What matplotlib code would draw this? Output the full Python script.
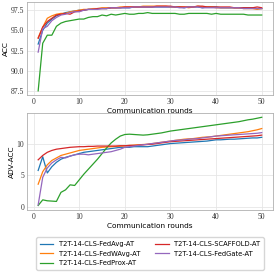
import numpy as np
import matplotlib
matplotlib.use("Agg")
import matplotlib.pyplot as plt

rounds = np.arange(1, 51)
labels = ["T2T-14-CLS-FedAvg-AT", "T2T-14-CLS-FedWAvg-AT", "T2T-14-CLS-FedProx-AT",
          "T2T-14-CLS-SCAFFOLD-AT", "T2T-14-CLS-FedGate-AT"]
colors = ["#1f77b4", "#ff7f0e", "#2ca02c", "#d62728", "#9467bd"]
xtick_labels = ["0", "10", "20", "30", "40", "50"]
acc_ticks = ["87.5", "90.0", "92.5", "95.0", "97.5"]
adv_ticks = ["0", "5", "10"]

# clean accuracy
acc_fedavg = [93.3, 95.0, 95.9, 96.4, 96.8, 97.0, 97.2, 97.3, 97.4, 97.5,
              97.5, 97.6, 97.6, 97.7, 97.7, 97.7, 97.8, 97.8, 97.8, 97.8,
              97.8, 97.9, 97.9, 97.9, 97.9, 97.9, 97.9, 97.9, 97.9, 97.9,
              97.9, 97.9, 97.8, 97.9, 97.9, 97.9, 97.8, 97.9, 97.9, 97.9,
              97.8, 97.8, 97.8, 97.8, 97.8, 97.8, 97.8, 97.8, 97.7, 97.7]
acc_fedwavg = [94.1, 95.4, 96.5, 96.8, 97.0, 97.1, 97.1, 97.3, 97.4, 97.5,
               97.6, 97.6, 97.7, 97.7, 97.8, 97.8, 97.8, 97.8, 97.9, 97.9,
               97.9, 97.9, 97.9, 98.0, 98.0, 98.0, 98.0, 98.0, 98.0, 97.9,
               97.9, 97.9, 97.9, 97.8, 97.9, 98.0, 97.9, 97.9, 97.9, 97.8,
               97.8, 97.8, 97.8, 97.8, 97.8, 97.7, 97.7, 97.7, 97.6, 97.7]
acc_fedprox = [87.5, 93.4, 94.4, 94.4, 95.5, 95.9, 96.1, 96.2, 96.3, 96.4,
               96.4, 96.6, 96.7, 96.7, 96.9, 96.8, 97.0, 96.9, 97.0, 97.1,
               97.0, 97.0, 97.1, 97.1, 97.2, 97.1, 97.1, 97.1, 97.1, 97.1,
               97.1, 97.0, 97.0, 97.1, 97.1, 97.1, 97.1, 97.1, 97.0, 97.1,
               97.0, 97.0, 97.0, 97.0, 97.0, 97.0, 96.9, 96.9, 96.9, 96.9]
acc_scaffold = [94.0, 95.4, 96.1, 96.5, 96.9, 97.0, 97.1, 97.0, 97.3, 97.4,
                97.5, 97.6, 97.6, 97.7, 97.7, 97.7, 97.8, 97.8, 97.8, 97.9,
                97.9, 97.9, 97.9, 97.9, 97.9, 97.9, 98.0, 98.0, 98.0, 98.0,
                97.9, 97.9, 97.9, 97.9, 97.9, 98.0, 98.0, 97.9, 97.9, 97.9,
                97.9, 97.9, 97.9, 97.8, 97.8, 97.8, 97.8, 97.8, 97.9, 97.8]
acc_fedgate = [92.3, 95.2, 95.5, 96.2, 96.6, 96.9, 97.0, 97.2, 97.3, 97.3,
               97.5, 97.6, 97.6, 97.6, 97.7, 97.7, 97.8, 97.8, 97.8, 97.8,
               97.8, 97.9, 97.9, 97.9, 97.9, 97.9, 97.9, 97.9, 97.9, 97.9,
               97.9, 97.8, 97.8, 97.9, 97.9, 97.9, 97.8, 97.8, 97.8, 97.8,
               97.8, 97.8, 97.8, 97.8, 97.8, 97.7, 97.7, 97.7, 97.7, 97.7]

# adversarial accuracy
adv_fedavg = [5.8, 8.0, 5.4, 6.4, 7.1, 7.6, 7.9, 8.1, 8.3, 8.5,
              8.7, 8.8, 8.9, 9.0, 9.1, 9.2, 9.3, 9.4, 9.5, 9.5,
              9.5, 9.6, 9.6, 9.6, 9.6, 9.7, 9.8, 9.9, 10.0, 10.1,
              10.15, 10.2, 10.25, 10.3, 10.35, 10.4, 10.45, 10.5, 10.6, 10.7,
              10.7, 10.75, 10.8, 10.8, 10.85, 10.9, 10.95, 11.0, 11.0, 11.1]
adv_fedwavg = [3.6, 5.6, 6.7, 7.4, 7.8, 8.2, 8.4, 8.6, 8.8, 9.0,
               9.1, 9.2, 9.3, 9.4, 9.5, 9.55, 9.6, 9.65, 9.7, 9.75,
               9.8, 9.85, 9.9, 9.95, 10.0, 10.1, 10.2, 10.3, 10.4, 10.5,
               10.6, 10.7, 10.8, 10.85, 10.9, 11.0, 11.1, 11.15, 11.2, 11.3,
               11.4, 11.5, 11.6, 11.7, 11.8, 11.9, 12.0, 12.15, 12.3, 12.5]
adv_fedprox = [0.2, 1.1, 0.95, 0.9, 0.85, 2.3, 2.7, 3.5, 3.4, 4.3,
               5.2, 6.0, 6.8, 7.6, 8.5, 9.4, 10.2, 10.8, 11.3, 11.55,
               11.6, 11.55, 11.5, 11.45, 11.5, 11.6, 11.7, 11.8, 11.95, 12.1,
               12.2, 12.3, 12.4, 12.5, 12.6, 12.7, 12.8, 12.9, 13.0, 13.1,
               13.2, 13.3, 13.4, 13.5, 13.6, 13.75, 13.9, 14.0, 14.15, 14.3]
adv_scaffold = [7.5, 8.2, 8.7, 9.0, 9.2, 9.3, 9.4, 9.5, 9.55, 9.6,
                9.6, 9.65, 9.65, 9.7, 9.7, 9.7, 9.7, 9.7, 9.75, 9.75,
                9.8, 9.8, 9.85, 9.9, 9.95, 10.0, 10.1, 10.2, 10.3, 10.4,
                10.45, 10.5, 10.55, 10.6, 10.65, 10.7, 10.75, 10.8, 10.85, 10.9,
                10.95, 11.0, 11.05, 11.1, 11.15, 11.2, 11.25, 11.3, 11.35, 11.45]
adv_fedgate = [0.3, 4.7, 6.2, 7.0, 7.5, 7.9, 7.8, 8.1, 8.3, 8.4,
               8.4, 8.3, 8.4, 8.5, 8.6, 8.7, 8.8, 9.0, 9.2, 9.5,
               9.6, 9.7, 9.8, 9.9, 10.0, 10.1, 10.2, 10.3, 10.4, 10.5,
               10.6, 10.65, 10.7, 10.8, 10.85, 10.9, 11.0, 11.1, 11.2, 11.3,
               11.35, 11.4, 11.45, 11.5, 11.55, 11.6, 11.65, 11.7, 11.75, 11.85]

acc = [acc_fedavg, acc_fedwavg, acc_fedprox, acc_scaffold, acc_fedgate]
adv = [adv_fedavg, adv_fedwavg, adv_fedprox, adv_scaffold, adv_fedgate]

fig = plt.figure(figsize=(2.74, 2.74), dpi=100)
ax1 = fig.add_axes([0.0985, 0.653, 0.8975, 0.34])
ax2 = fig.add_axes([0.0985, 0.234, 0.8975, 0.354])

serif = "Liberation Serif"
for ax, data, ylab, yt, ytl in [(ax1, acc, "ACC", [87.5, 90, 92.5, 95, 97.5], acc_ticks),
                                (ax2, adv, "ADV-ACC", [0, 5, 10], adv_ticks)]:
    for y, c, lab in zip(data, colors, labels):
        ax.plot(rounds, y, color=c, lw=0.9, label=lab)
    ax.grid(True, color="#e6e6e6", lw=0.6)
    ax.set_axisbelow(True)
    for s in ax.spines.values():
        s.set_color("#b0b0b0")
        s.set_linewidth(0.6)
    ax.tick_params(length=0, pad=2, labelsize=5.5, colors="#333333")
    ax.set_xticks([0, 10, 20, 30, 40, 50])
    ax.set_xticklabels(xtick_labels, fontfamily=serif)
    ax.set_yticks(yt)
    ax.set_yticklabels(ytl, fontfamily=serif)
    ax.set_xlabel("Communication rounds", fontsize=5.3, labelpad=1.5)
    ax.set_ylabel(ylab, fontsize=5.3, labelpad=1.5)

h, l = ax2.get_legend_handles_labels()
fig.legend(h, l, ncol=2, loc="lower center",
           bbox_to_anchor=(0.547, 0.003), fontsize=4.9, frameon=True, edgecolor="#cccccc",
           handlelength=2.0, columnspacing=2.2, borderpad=0.5, labelspacing=0.55,
           fancybox=True)

fig.savefig("out.png", dpi=100)
